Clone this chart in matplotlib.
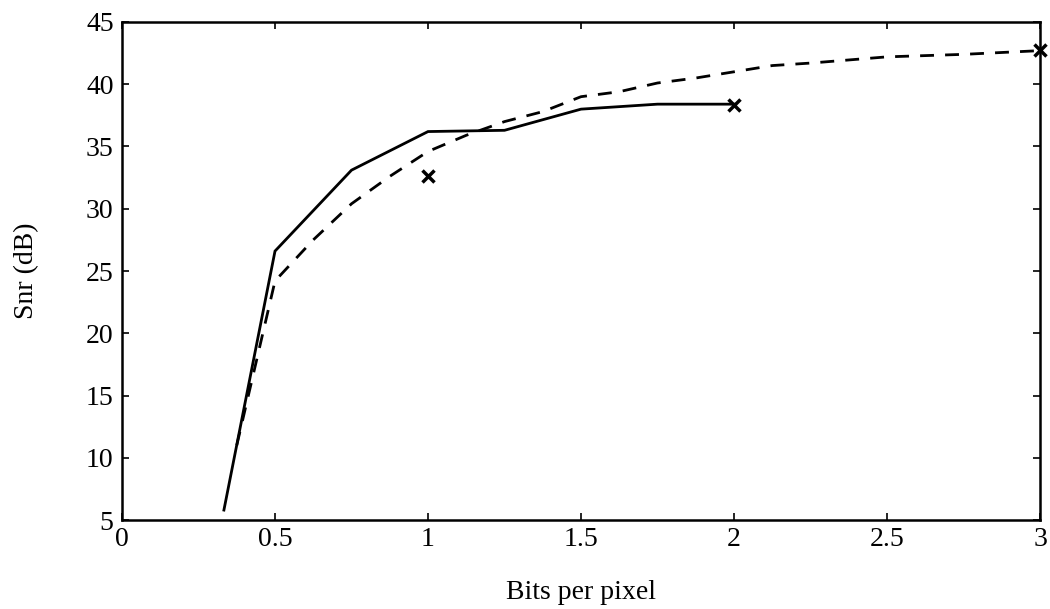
import matplotlib
matplotlib.use("Agg")
import matplotlib.pyplot as plt

solid_x = [0.333, 0.5, 0.75, 1.0, 1.25, 1.5, 1.75, 2.0]
solid_y = [5.8, 26.6, 33.1, 36.2, 36.3, 38.0, 38.4, 38.4]

dashed_x = [0.375, 0.5, 0.625, 0.75, 0.875, 1.0, 1.125, 1.25, 1.375, 1.5, 1.625,
            1.75, 1.875, 2.0, 2.125, 2.25, 2.5, 2.75, 3.0]
dashed_y = [11.0, 24.2, 27.5, 30.4, 32.6, 34.6, 35.9, 37.0, 37.8, 39.0, 39.4,
            40.1, 40.5, 41.0, 41.5, 41.7, 42.2, 42.4, 42.7]

marker_x = [1.0, 2.0, 3.0]
marker_y = [32.6, 38.3, 42.75]

xticks = [0, 0.5, 1, 1.5, 2, 2.5, 3]
xtick_labels = ["0", "0.5", "1", "1.5", "2", "2.5", "3"]
yticks = [5, 10, 15, 20, 25, 30, 35, 40, 45]

plt.rcParams['font.family'] = ['Liberation Serif', 'DejaVu Serif']

fig = plt.figure(figsize=(10.5, 6.09), dpi=100)
ax = fig.add_axes([0.1162, 0.1461, 0.8743, 0.8178])

ax.plot(solid_x, solid_y, color='black', lw=2.0, solid_joinstyle='miter')
ax.plot(dashed_x, dashed_y, color='black', lw=2.0, dashes=(5, 4))
ax.plot(marker_x, marker_y, linestyle='none', marker='x', color='black',
        markersize=9, markeredgewidth=2.5, clip_on=False)

ax.set_xlim(0, 3)
ax.set_ylim(5, 45)
ax.set_xticks(xticks)
ax.set_xticklabels(xtick_labels)
ax.set_yticks(yticks)

ax.tick_params(direction='in', length=5, width=1.2, top=True, right=True,
               labelsize=20)
ax.tick_params(axis='x', pad=5)
ax.tick_params(axis='y', pad=6)
for sp in ax.spines.values():
    sp.set_linewidth(1.8)

ax.set_xlabel("Bits per pixel", fontsize=20, labelpad=20)
ax.set_ylabel("Snr (dB)", fontsize=20, labelpad=34)

fig.savefig("out.png", dpi=100, facecolor='white')
